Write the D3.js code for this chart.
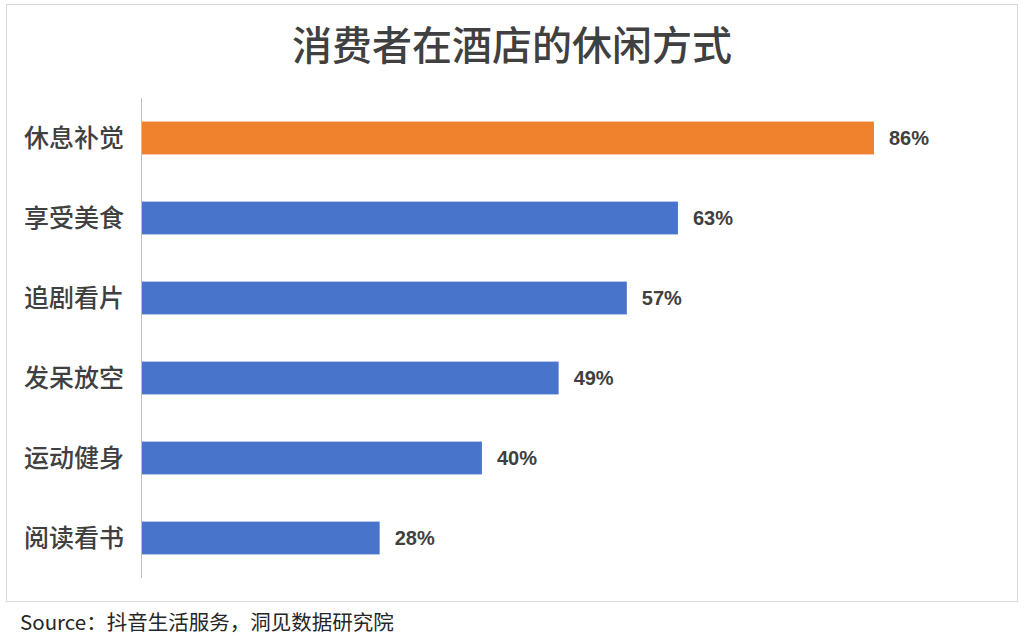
<!DOCTYPE html>
<html><head><meta charset="utf-8">
<script src="https://cdn.jsdelivr.net/npm/d3@7"></script>
<style>body{margin:0;background:#fff;font-family:"Noto Sans CJK SC","Noto Sans",sans-serif;}</style>
</head><body>
<svg id="c" width="1024" height="636"></svg>
<script>
const categories = ["休息补觉","享受美食","追剧看片","发呆放空","运动健身","阅读看书"];
const values = [86,63,57,49,40,28];
const highlight = "休息补觉";
const title = "消费者在酒店的休闲方式";
const source = "Source：抖音生活服务，洞见数据研究院";

const svg = d3.select("#c");
svg.append("rect").attr("x",6.5).attr("y",4.5).attr("width",1011).attr("height",597)
  .attr("fill","#fff").attr("stroke","#d9d9d9");
svg.append("text").attr("x",512).attr("y",60).attr("text-anchor","middle")
  .attr("font-size",40).attr("font-weight","500").attr("fill","#404040").text(title);

const x = d3.scaleLinear().domain([0,100]).range([141,141+852.3]);
const y = d3.scaleBand().domain(categories).range([98,578]).paddingInner(0.59).paddingOuter(0.295);

svg.selectAll("rect.bar").data(categories).join("rect").attr("class","bar")
  .attr("x",x(0)).attr("y",d=>y(d)).attr("height",y.bandwidth())
  .attr("width",(d,i)=>x(values[i])-x(0))
  .attr("fill",d=>d===highlight?"#F0822E":"#4874CB");

svg.append("line").attr("x1",141.5).attr("x2",141.5).attr("y1",98).attr("y2",578).attr("stroke","#bfbfbf");

svg.selectAll("text.cat").data(categories).join("text").attr("class","cat")
  .attr("x",24).attr("y",d=>y(d)+y.bandwidth()/2).attr("dy","0.35em")
  .attr("font-size",25).attr("font-weight","500").attr("fill","#404040").text(d=>d);

svg.selectAll("text.val").data(categories).join("text").attr("class","val")
  .attr("x",(d,i)=>x(values[i])+15).attr("y",d=>y(d)+y.bandwidth()/2).attr("dy","0.35em")
  .attr("font-size",20).attr("font-weight","bold").attr("fill","#404040")
  .attr("font-family","Liberation Sans, Arial, sans-serif")
  .text((d,i)=>values[i]+"%");

svg.append("text").attr("x",20).attr("y",630).attr("font-size",20.5).attr("fill","#262626").text(source);
</script>
</body></html>
